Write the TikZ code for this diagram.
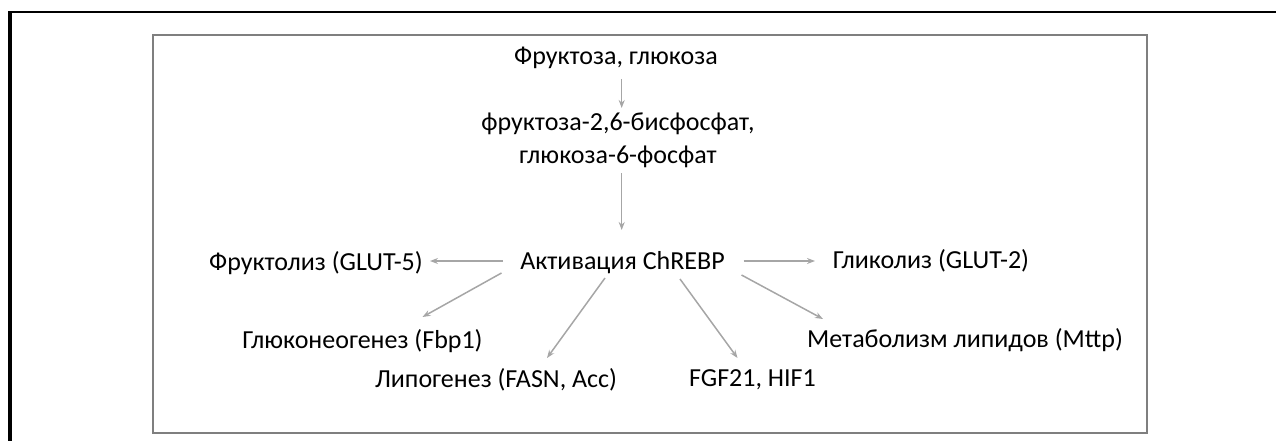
\documentclass[tikz,border=0pt]{standalone}
\usepackage{fontspec}
\setmainfont{Carlito}
\usetikzlibrary{arrows.meta,calc}
\definecolor{boxgray}{HTML}{7F7F7F}
\definecolor{arrgray}{HTML}{A6A6A6}
\tikzset{
  lbl/.style={inner sep=0pt, font=\fontsize{26}{33}\selectfont, text=black},
  arr/.style={draw=arrgray, line width=1.5pt, -{Stealth[length=8pt,width=6pt]}},
}
\begin{document}
\begin{tikzpicture}[x=1pt,y=-1pt]
\useasboundingbox (0,0) rectangle (1276,441);
% outer table border (cropped)
\draw[black, line width=3.5pt] (10,441) -- (10,12);
\draw[black, line width=2.5pt] (8.25,12) -- (1276,12);
% inner frame
\draw[boxgray, line width=2pt] (152.5,35) rectangle (1146.5,432.5);

\node[lbl] (f1) at (616,58) {Фруктоза, глюкоза};
\node[lbl, align=center] (f2) at (618,140) {фруктоза-2,6-бисфосфат,\\глюкоза-6-фосфат};
\node[lbl] (act) at (622.5,263) {Активация ChREBP};
\node[lbl] (frl) at (316,263) {Фруктолиз (GLUT-5)};
\node[lbl] (gly) at (931,261) {Гликолиз (GLUT-2)};
\node[lbl] (gng) at (362.5,341) {Глюконеогенез (Fbp1)};
\node[lbl] (lip) at (496,380) {Липогенез (FASN, Acc)};
\node[lbl] (fgf) at (752.5,380) {FGF21, HIF1};
\node[lbl] (met) at (965,340) {Метаболизм липидов (Mttp)};

\draw[arr] ($(f1)+(5.7,21)$) -- ($(f2)+(3.7,-32)$);
\draw[arr] ($(f2)+(3.7,33)$) -- ($(act)+(-0.8,-33)$);
\draw[arr] ($(act)+(-119.5,-2)$) -- ($(frl)+(114,-2)$);
\draw[arr] ($(act)+(121,-2)$) -- ($(gly)+(-116,0)$);
\draw[arr] ($(act)+(-121,10)$) -- ($(gng)+(60,-24)$);
\draw[arr] ($(act)+(-17.5,15)$) -- ($(lip)+(51,-22)$);
\draw[arr] ($(act)+(57.5,16)$) -- ($(fgf)+(-15,-22)$);
\draw[arr] ($(act)+(119,12)$) -- ($(met)+(-142,-21)$);
\end{tikzpicture}
\end{document}
